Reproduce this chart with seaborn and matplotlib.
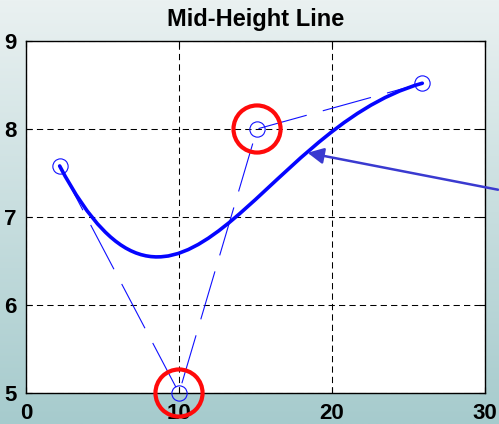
import numpy as np
import pandas as pd
import matplotlib
matplotlib.use("Agg")
import matplotlib.pyplot as plt
from matplotlib.path import Path
from matplotlib.patches import PathPatch
import seaborn as sns

# Control points of the cubic Bezier curve
ctrl_x = [2.2, 10.0, 15.1, 25.9]
ctrl_y = [7.58, 5.0, 8.0, 8.52]
# Control points singled out with a red ring
ring_idx = [1, 2]
# Arrow pointing at the curve (tail, head)
arrow_tail = (30.85, 7.31)
arrow_head = (18.4, 7.73)

x_ticks = [0, 10, 20, 30]
y_ticks = [5, 6, 7, 8, 9]

sns.set_theme(style="white")
plt.rcParams["font.family"] = ["Liberation Sans", "DejaVu Sans"]
plt.rcParams["text.color"] = "black"

fig = plt.figure(figsize=(4.99, 4.24), dpi=100)

# slide-style vertical gradient background
bg = fig.add_axes([0, 0, 1, 1], zorder=-10)
top = np.array([234, 241, 241]) / 255.0
bot = np.array([166, 203, 205]) / 255.0
t = np.linspace(0, 1, 256)[:, None]
grad = top[None, :] * (1 - t) + bot[None, :] * t
bg.imshow(grad[:, None, :], aspect="auto", extent=[0, 1, 0, 1])
bg.set_axis_off()

ax = fig.add_axes([0.0521, 0.0731, 0.9199, 0.8302])
ax.set_facecolor("white")

df = pd.DataFrame({"x": ctrl_x, "y": ctrl_y})

# dashed control polygon with open circle markers
sns.lineplot(data=df, x="x", y="y", ax=ax, sort=False, color="#1010ff",
             lw=0.8, marker="o", markersize=11, markerfacecolor="none",
             markeredgecolor="#1010ff", markeredgewidth=0.8, clip_on=False,
             zorder=3)
ax.lines[-1].set_dashes((45, 15))

# Bezier curve defined by the control points
verts = list(zip(ctrl_x, ctrl_y))
path = Path(verts, [Path.MOVETO, Path.CURVE4, Path.CURVE4, Path.CURVE4])
ax.add_patch(PathPatch(path, facecolor="none", edgecolor="#0505ff", lw=2.6,
                       zorder=4, capstyle="round"))

# red rings around selected control points
ax.scatter([ctrl_x[i] for i in ring_idx], [ctrl_y[i] for i in ring_idx],
           s=1150, facecolors="none", edgecolors="#ff0a0a", linewidths=3.0,
           zorder=6, clip_on=False)

ax.annotate("", xy=arrow_head, xytext=arrow_tail, xycoords="data",
            textcoords="data", annotation_clip=False,
            arrowprops=dict(arrowstyle="-|>", color="#3a3ad0", lw=1.8,
                            mutation_scale=24, shrinkA=0, shrinkB=0),
            zorder=7)

ax.set_xlim(0, 30)
ax.set_ylim(5, 9)
ax.set_xticks(x_ticks)
ax.set_yticks(y_ticks)
ax.set_xlabel("")
ax.set_ylabel("")
ax.grid(True, color="black", lw=0.75, linestyle=(0, (6, 4)))
for s in ax.spines.values():
    s.set_visible(True)
    s.set_color("black")
    s.set_linewidth(1.0)
ax.tick_params(direction="in", length=4, width=0.8, top=True, right=True,
               bottom=True, left=True, labelsize=16, pad=7, colors="black")
for lab in ax.get_xticklabels() + ax.get_yticklabels():
    lab.set_fontweight("bold")
ax.set_title("Mid-Height Line", fontsize=17, fontweight="bold", pad=11,
             color="black")

fig.savefig("out.png", dpi=100)
